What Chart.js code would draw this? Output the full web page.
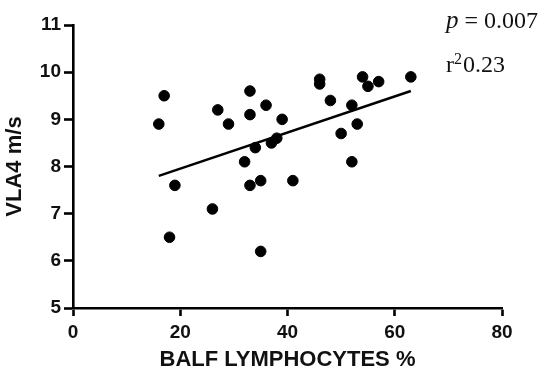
<!DOCTYPE html>
<html>
<head>
<meta charset="utf-8">
<script src="https://cdn.jsdelivr.net/npm/chart.js@4"></script>
<style>
  html, body { margin: 0; padding: 0; background: #fff; }
  #wrap { width: 550px; height: 382px; position: relative; }
</style>
</head>
<body>
<div id="wrap"><canvas id="vlaChart" width="550" height="382"></canvas></div>
<script>
// BALF lymphocytes % vs VLA4 m/s
const lymphocytes = [16, 17, 18, 19, 26, 27, 29, 32, 33, 33, 33, 34, 35, 35, 36, 37, 38, 39, 41, 46, 46, 48, 50, 52, 52, 53, 54, 55, 57, 63];
const vla4 = [8.9, 9.5, 6.5, 7.6, 7.1, 9.2, 8.9, 8.1, 9.6, 9.1, 7.6, 8.4, 7.7, 6.2, 9.3, 8.5, 8.6, 9.0, 7.7, 9.85, 9.75, 9.4, 8.7, 9.3, 8.1, 8.9, 9.9, 9.7, 9.8, 9.9];

// linear fit end points
const fitX = [16, 63];
const fitY = [7.8, 9.6];

const xTicks = [0, 20, 40, 60, 80];
const yTicks = [5, 6, 7, 8, 9, 10, 11];

const statsText = { p: '0.007', r2: '0.23' };

const tickFont = { family: 'Liberation Sans, Arial, sans-serif', weight: 'bold', size: 19 };
const titleFont = { family: 'Liberation Sans, Arial, sans-serif', weight: 'bold', size: 22 };

// p value and r squared in the top right
const statsLabel = {
  id: 'statsLabel',
  afterDraw(chart) {
    const c = chart.ctx;
    c.save();
    c.fillStyle = '#111';
    c.textBaseline = 'alphabetic';
    let x = 446;
    c.font = 'italic 25px "Liberation Serif", serif';
    c.fillText('p', x, 28);
    x += c.measureText('p').width;
    c.font = '24px "Liberation Serif", serif';
    c.fillText(' = ' + statsText.p, x, 28);

    x = 446;
    c.fillText('r', x, 72);
    x += c.measureText('r').width;
    c.font = '16px "Liberation Serif", serif';
    c.fillText('2', x, 64);
    x += c.measureText('2').width + 1;
    c.font = '24px "Liberation Serif", serif';
    c.fillText(statsText.r2, x, 72);
    c.restore();
  }
};

const ctx = document.getElementById('vlaChart').getContext('2d');
new Chart(ctx, {
  type: 'scatter',
  data: {
    datasets: [
      {
        label: 'Patients',
        data: lymphocytes.map((v, i) => ({ x: v, y: vla4[i] })),
        backgroundColor: '#000',
        borderColor: '#000',
        pointRadius: 5.3,
        pointHoverRadius: 5.3
      },
      {
        type: 'line',
        label: 'Fit',
        data: fitX.map((v, i) => ({ x: v, y: fitY[i] })),
        borderColor: '#000',
        borderWidth: 2.5,
        pointRadius: 0,
        fill: false
      }
    ]
  },
  options: {
    responsive: false,
    animation: false,
    devicePixelRatio: 1,
    layout: { padding: { top: 25, right: 48, left: 0, bottom: 0 } },
    plugins: { legend: { display: false }, tooltip: { enabled: false } },
    scales: {
      x: {
        type: 'linear',
        min: 0, max: 80,
        afterBuildTicks: s => { s.ticks = xTicks.map(v => ({ value: v })); },
        afterFit: s => { s.height = 74; },
        border: { color: '#000', width: 2.6 },
        grid: { drawOnChartArea: false, color: '#000', tickLength: 8, tickWidth: 2.6, tickColor: '#000' },
        ticks: { color: '#111', font: tickFont, padding: 5 },
        title: { display: true, text: 'BALF LYMPHOCYTES %', color: '#111', font: titleFont, padding: { top: 0, bottom: 9 } }
      },
      y: {
        type: 'linear',
        min: 5, max: 11,
        afterBuildTicks: s => { s.ticks = yTicks.map(v => ({ value: v })); },
        afterFit: s => { s.width = 73; },
        border: { color: '#000', width: 2.6 },
        grid: { drawOnChartArea: false, color: '#000', tickLength: 9, tickWidth: 2.6, tickColor: '#000' },
        ticks: { color: '#111', font: tickFont, padding: 3 },
        title: { display: true, text: 'VLA4 m/s', color: '#111', font: titleFont, padding: { top: 2, bottom: 0 } }
      }
    }
  },
  plugins: [statsLabel]
});
</script>
</body>
</html>
